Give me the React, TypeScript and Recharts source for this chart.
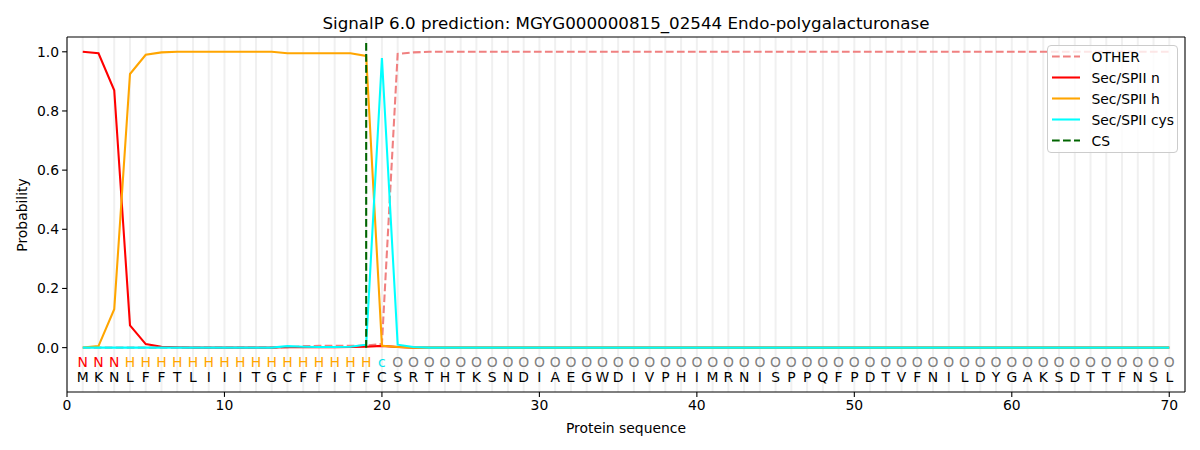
import React from 'react';
import { ComposedChart, Line, Scatter, XAxis, YAxis, ReferenceLine } from 'recharts';

const residues = ['M','K','N','L','F','F','T','L','I','I','I','T','G','C','F','F','I','T','F','C','S','R','T','H','T','K','S','N','D','I','A','E','G','W','D','I','V','P','H','I','M','R','N','I','S','P','P','Q','F','P','D','T','V','F','N','I','L','D','Y','G','A','K','S','D','T','T','F','N','S','L'];
const regionLabels = ['N','N','N','H','H','H','H','H','H','H','H','H','H','H','H','H','H','H','H','c','O','O','O','O','O','O','O','O','O','O','O','O','O','O','O','O','O','O','O','O','O','O','O','O','O','O','O','O','O','O','O','O','O','O','O','O','O','O','O','O','O','O','O','O','O','O','O','O','O','O'];

const otherProb = [0,0,0,0,0,0,0,0,0,0,0,0,0,0.001,0.005,0.006,0.006,0.006,0.007,0.013,0.993,0.998,1,1,1,1,1,1,1,1,1,1,1,1,1,1,1,1,1,1,1,1,1,1,1,1,1,1,1,1,1,1,1,1,1,1,1,1,1,1,1,1,1,1,1,1,1,1,1,1];
const nProb = [1.0,0.995,0.87,0.075,0.012,0.003,0.001,0,0,0,0,0,0,0.002,0.001,0.001,0.001,0.002,0.003,0.006,0.002,0,0,0,0,0,0,0,0,0,0,0,0,0,0,0,0,0,0,0,0,0,0,0,0,0,0,0,0,0,0,0,0,0,0,0,0,0,0,0,0,0,0,0,0,0,0,0,0,0];
const hProb = [0,0.005,0.13,0.925,0.99,0.998,1,1,1,1,1,1,1,0.995,0.995,0.995,0.995,0.995,0.986,0.006,0.002,0,0,0,0,0,0,0,0,0,0,0,0,0,0,0,0,0,0,0,0,0,0,0,0,0,0,0,0,0,0,0,0,0,0,0,0,0,0,0,0,0,0,0,0,0,0,0,0,0];
const cysProb = [0,0,0,0,0,0,0,0,0,0,0,0,0,0.005,0.003,0.002,0.002,0.003,0.01,0.979,0.01,0.002,0,0,0,0,0,0,0,0,0,0,0,0,0,0,0,0,0,0,0,0,0,0,0,0,0,0,0,0,0,0,0,0,0,0,0,0,0,0,0,0,0,0,0,0,0,0,0,0];

const csPosition = 19;
const xTicks = [0, 10, 20, 30, 40, 50, 60, 70];
const yTicks = [0, 0.2, 0.4, 0.6, 0.8, 1.0];

const labelColors: Record<string, string> = { N: '#ff0000', H: '#ffa500', c: '#00e5ee', O: '#808080' };

const positions = residues.map((_, i) => i + 1);
const data = positions.map((pos, i) => ({
  pos,
  other: otherProb[i],
  n: nProb[i],
  h: hProb[i],
  cys: cysProb[i],
}));
const aaData = positions.map((pos, i) => ({ pos, ya: -0.098, txt: residues[i], color: '#000000' }));
const regData = positions.map((pos, i) => ({ pos, ya: -0.047, txt: regionLabels[i], color: labelColors[regionLabels[i]] }));

const FONT = 'DejaVu Sans, sans-serif';
const LW = 2.08;
const DASH = '7.7 3.3';

const TextShape = (props: any) => {
  const { cx, cy, payload } = props;
  return (
    <text x={cx} y={cy} textAnchor="middle" dominantBaseline="central" fontSize={13.9} fontFamily={FONT} fill={payload.color}>
      {payload.txt}
    </text>
  );
};

const legendItems = [
  { name: 'OTHER', color: '#f08080', dash: DASH },
  { name: 'Sec/SPII n', color: '#ff0000', dash: undefined },
  { name: 'Sec/SPII h', color: '#ffa500', dash: undefined },
  { name: 'Sec/SPII cys', color: '#00ffff', dash: undefined },
  { name: 'CS', color: '#006400', dash: DASH },
];

export default function App() {
  return (
    <div style={{ position: 'relative', width: 1192, height: 442, fontFamily: FONT }}>
      <ComposedChart width={1192} height={442} data={data} margin={{ top: 29, right: 15, left: 0, bottom: 0 }}>
        <XAxis
          dataKey="pos"
          type="number"
          domain={[0, 71]}
          ticks={xTicks}
          interval={0}
          allowDataOverflow
          height={58}
          tickSize={4.9}
          tickMargin={3}
          stroke="#000"
          strokeWidth={1.1}
          tick={{ fill: '#000', fontSize: 13.9, fontFamily: FONT }}
        />
        <YAxis
          type="number"
          domain={[-0.15, 1.05]}
          ticks={yTicks}
          interval={0}
          allowDataOverflow
          width={59}
          tickSize={4.9}
          tickMargin={3}
          stroke="#000"
          strokeWidth={1.1}
          tickFormatter={(v: number) => v.toFixed(1)}
          tick={{ fill: '#000', fontSize: 13.9, fontFamily: FONT }}
        />
        {positions.map((p) => (
          <ReferenceLine key={'g' + p} x={p} stroke="#f0f0f0" strokeWidth={2} />
        ))}
        <ReferenceLine x={71} stroke="#000" strokeWidth={1.1} />
        <ReferenceLine y={1.05} stroke="#000" strokeWidth={1.1} />
        <Line dataKey="other" stroke="#f08080" strokeWidth={LW} strokeDasharray={DASH} dot={false} isAnimationActive={false} />
        <Line dataKey="n" stroke="#ff0000" strokeWidth={LW} dot={false} isAnimationActive={false} />
        <Line dataKey="h" stroke="#ffa500" strokeWidth={LW} dot={false} isAnimationActive={false} />
        <Line dataKey="cys" stroke="#00ffff" strokeWidth={LW} dot={false} isAnimationActive={false} />
        <ReferenceLine
          segment={[{ x: csPosition, y: 0 }, { x: csPosition, y: 1.04 }]}
          stroke="#006400"
          strokeWidth={LW}
          strokeDasharray={DASH}
        />
        <Scatter data={regData} dataKey="ya" shape={TextShape} isAnimationActive={false} />
        <Scatter data={aaData} dataKey="ya" shape={TextShape} isAnimationActive={false} />
      </ComposedChart>

      <div style={{ position: 'absolute', left: 59, width: 1118, top: 5, lineHeight: '20px', textAlign: 'center', fontSize: 16.7, color: '#000' }}>
        SignalP 6.0 prediction: MGYG000000815_02544 Endo-polygalacturonase
      </div>
      <div style={{ position: 'absolute', left: 59, width: 1118, top: 412, lineHeight: '16px', textAlign: 'center', fontSize: 13.9, color: '#000' }}>
        Protein sequence
      </div>
      <div style={{ position: 'absolute', left: 14, top: 206.5, transform: 'translate(-50%, -50%) rotate(-90deg)', fontSize: 13.9, lineHeight: '16px', whiteSpace: 'nowrap', color: '#000' }}>
        Probability
      </div>

      <div style={{ position: 'absolute', left: 1038.7, top: 36.7, width: 131.3, height: 108.3, boxSizing: 'border-box', border: '1px solid #cccccc', borderRadius: 4, background: 'rgba(255,255,255,0.8)' }}>
        <svg width={131} height={107} style={{ position: 'absolute', left: 0, top: 0 }}>
          {legendItems.map((it, i) => (
            <g key={it.name}>
              <line x1={4} x2={32} y1={10.5 + i * 21} y2={10.5 + i * 21} stroke={it.color} strokeWidth={LW} strokeDasharray={it.dash} />
              <text x={43.5} y={10.5 + i * 21} dominantBaseline="central" fontSize={13.9} fontFamily={FONT} fill="#000">
                {it.name}
              </text>
            </g>
          ))}
        </svg>
      </div>
    </div>
  );
}
